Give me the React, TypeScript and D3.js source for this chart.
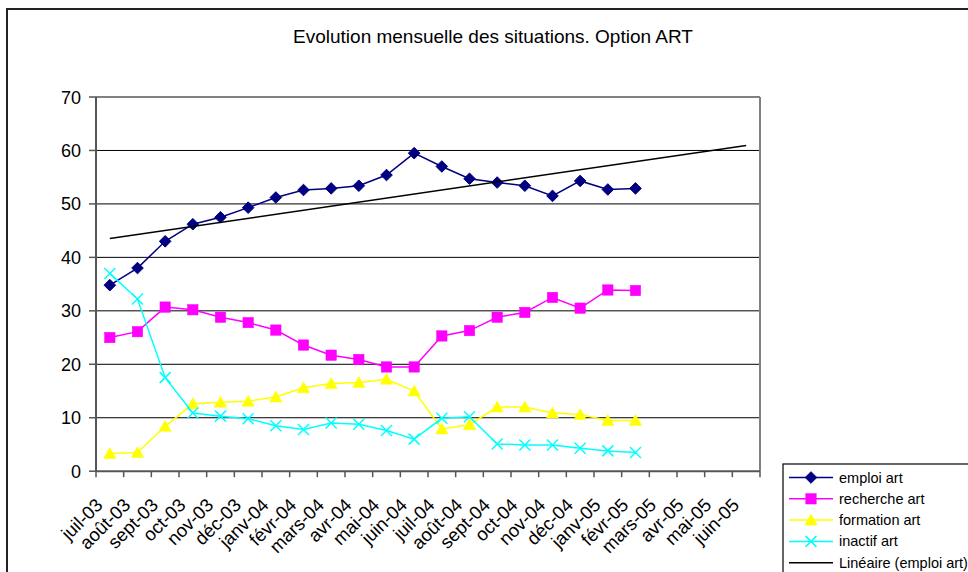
import React from "react";
import * as d3 from "d3";

const categories = ["juil-03","août-03","sept-03","oct-03","nov-03","déc-03","janv-04","févr-04","mars-04","avr-04","mai-04","juin-04","juil-04","août-04","sept-04","oct-04","nov-04","déc-04","janv-05","févr-05","mars-05","avr-05","mai-05","juin-05"];
const emploi = [34.8,38.0,43.0,46.2,47.5,49.3,51.2,52.6,52.9,53.4,55.4,59.5,57.0,54.7,54.0,53.4,51.5,54.3,52.7,52.9];
const recherche = [25.0,26.1,30.7,30.2,28.8,27.8,26.4,23.6,21.7,20.9,19.5,19.5,25.3,26.3,28.8,29.7,32.5,30.5,33.9,33.8];
const formation = [3.3,3.5,8.4,12.6,12.9,13.1,13.9,15.6,16.4,16.6,17.2,15.0,7.9,8.7,12.0,12.0,10.9,10.6,9.5,9.5];
const inactif = [37.0,32.2,17.5,10.9,10.3,9.8,8.5,7.8,9.0,8.8,7.6,6.0,9.9,10.2,5.1,4.9,4.9,4.3,3.8,3.5];
const yTicks = [0,10,20,30,40,50,60,70];
const title = "Evolution mensuelle des situations. Option ART";
const legendLabels = ["emploi art","recherche art","formation art","inactif art","Linéaire (emploi art)"];

const FONT = "'Liberation Sans', Arial, sans-serif";

function Marker({ kind, x, y, color }: { kind: string; x: number; y: number; color: string }) {
  if (kind === "diamond") {
    const s = 5.8;
    return <path d={`M${x},${y - s}L${x + s},${y}L${x},${y + s}L${x - s},${y}Z`} fill={color} stroke={color} strokeWidth={1} />;
  }
  if (kind === "square") {
    const s = 5.2;
    return <rect x={x - s} y={y - s} width={2 * s} height={2 * s} fill={color} stroke={color} strokeWidth={0.5} />;
  }
  if (kind === "triangle") {
    return <path d={`M${x},${y - 6}L${x + 6.2},${y + 5}L${x - 6.2},${y + 5}Z`} fill={color} stroke={color} strokeWidth={0.5} />;
  }
  const s = 5.5;
  return (
    <g stroke={color} strokeWidth={1.5}>
      <line x1={x - s} y1={y - s} x2={x + s} y2={y + s} />
      <line x1={x - s} y1={y + s} x2={x + s} y2={y - s} />
    </g>
  );
}

export default function App() {
  const W = 968, H = 572;
  const left = 96, right = 760, top = 97, bottom = 471.2;
  const x = d3.scaleBand<string>().domain(categories).range([left, right]).padding(0);
  const bw = x.bandwidth();
  const cx = (i: number) => (x(categories[i]) as number) + bw / 2;
  const y = d3.scaleLinear().domain([0, 70]).range([bottom, top]);

  const series = [
    { name: legendLabels[0], data: emploi, color: "#000080", kind: "diamond" },
    { name: legendLabels[1], data: recherche, color: "#FF00FF", kind: "square" },
    { name: legendLabels[2], data: formation, color: "#FFFF00", kind: "triangle" },
    { name: legendLabels[3], data: inactif, color: "#00FFFF", kind: "x" },
  ];

  const line = d3.line<number>().x((_, i) => cx(i)).y((d) => y(d));

  // linear regression trendline of emploi
  const n = emploi.length;
  const xs = d3.range(n);
  const mx = d3.mean(xs) as number;
  const my = d3.mean(emploi) as number;
  const slope = d3.sum(xs, (xi, k) => (xi - mx) * (emploi[k] - my)) / d3.sum(xs, (xi) => (xi - mx) ** 2);
  const intercept = my - slope * mx;
  const lastIdx = categories.length - 1;

  const legX = 783, legY = 464;
  const rowY = (i: number) => 477.5 + i * 21.3;

  return (
    <svg width={W} height={H} style={{ position: "absolute", left: 0, top: 0, display: "block", background: "#fff" }} fontFamily={FONT}>
      <rect x={0} y={0} width={W} height={H} fill="#fff" />
      {/* outer chart frame */}
      <rect x={7} y={9} width={1200} height={1200} fill="none" stroke="#222" strokeWidth={2} />
      <text x={493} y={43} textAnchor="middle" fontSize={19} fill="#000">{title}</text>

      {/* gridlines */}
      {yTicks.filter((t) => t > 0 && t < 70).map((t) => (
        <line key={t} x1={left} x2={right} y1={y(t)} y2={y(t)} stroke="#000" strokeWidth={1} />
      ))}
      {/* plot border top/right */}
      <line x1={left} x2={right} y1={y(70)} y2={y(70)} stroke="#808080" strokeWidth={2} />
      <line x1={right} x2={right} y1={y(70)} y2={bottom} stroke="#808080" strokeWidth={2} />

      {/* y axis */}
      <line x1={left} x2={left} y1={y(70)} y2={bottom} stroke="#555" strokeWidth={2} />
      {yTicks.map((t) => (
        <g key={t}>
          <line x1={left - 7} x2={left} y1={y(t)} y2={y(t)} stroke="#555" strokeWidth={1.5} />
          <text x={81} y={y(t) + 6.5} textAnchor="end" fontSize={18} fill="#000">{t}</text>
        </g>
      ))}
      {/* x axis */}
      <line x1={left} x2={right} y1={bottom} y2={bottom} stroke="#555" strokeWidth={2} />
      {d3.range(categories.length + 1).map((i) => (
        <line key={i} x1={left + i * bw} x2={left + i * bw} y1={bottom} y2={bottom + 6} stroke="#555" strokeWidth={1.5} />
      ))}
      {categories.map((c, i) => (
        <text key={c} transform={`translate(${cx(i) - 6},${bottom + 35}) rotate(-45)`} textAnchor="end" fontSize={18.5} fill="#000">{c}</text>
      ))}

      {/* series */}
      {series.map((s) => (
        <g key={s.name}>
          <path d={line(s.data) as string} fill="none" stroke={s.color} strokeWidth={1.5} />
          {s.data.map((v, i) => (
            <Marker key={i} kind={s.kind} x={cx(i)} y={y(v)} color={s.color} />
          ))}
        </g>
      ))}
      {/* trendline */}
      <line x1={cx(0)} y1={y(intercept)} x2={cx(lastIdx)} y2={y(intercept + slope * lastIdx)} stroke="#000" strokeWidth={1.5} />

      {/* legend */}
      <rect x={legX} y={legY} width={400} height={300} fill="#fff" stroke="#000" strokeWidth={1.2} />
      {series.map((s, i) => (
        <g key={s.name}>
          <line x1={789} x2={833} y1={rowY(i)} y2={rowY(i)} stroke={s.color} strokeWidth={1.5} />
          <Marker kind={s.kind} x={811} y={rowY(i)} color={s.color} />
          <text x={839} y={rowY(i) + 5} fontSize={14.5} fill="#000">{s.name}</text>
        </g>
      ))}
      <line x1={789} x2={833} y1={rowY(4)} y2={rowY(4)} stroke="#000" strokeWidth={1.5} />
      <text x={839} y={rowY(4) + 5} fontSize={14.5} fill="#000">{legendLabels[4]}</text>
    </svg>
  );
}
